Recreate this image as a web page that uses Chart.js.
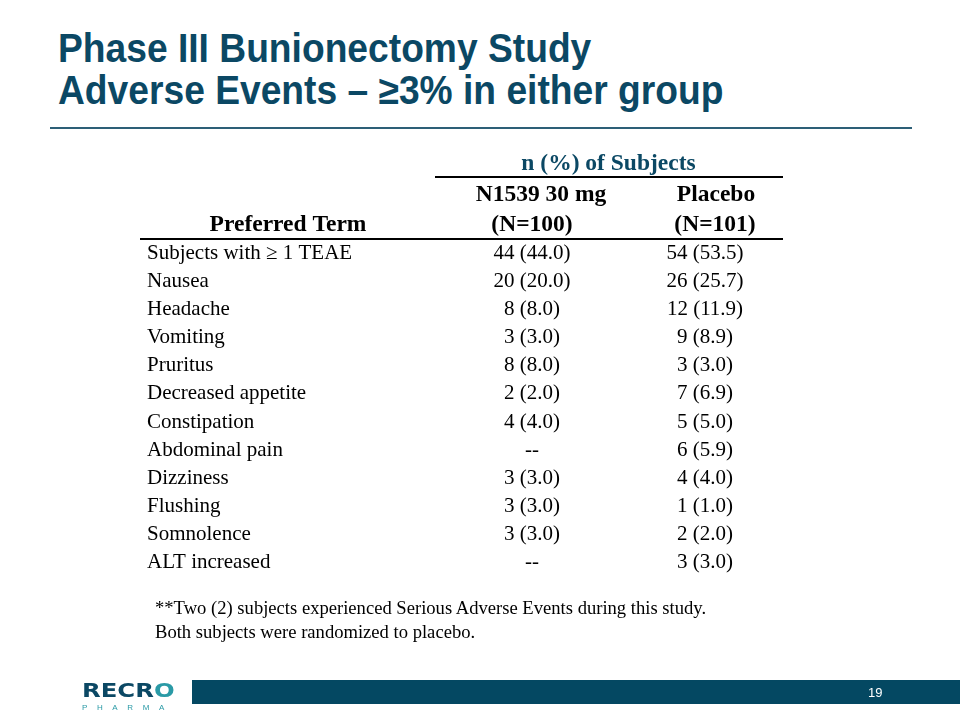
<!DOCTYPE html>
<html lang="en">
<head>
    <meta charset="UTF-8">
    <title>Phase III Bunionectomy Study - Adverse Events</title>
    <script src="https://cdn.jsdelivr.net/npm/chart.js"></script>
    <style>
        body {
            margin: 0;
            padding: 0;
            background-color: white;
        }

        .slide {
            position: relative;
            width: 960px;
            height: 720px;
            overflow: hidden;
            background-color: white;
        }

        .title {
            position: absolute;
            left: 58px;
            top: 27px;
            margin: 0;
            font-family: "Liberation Sans", Arial, sans-serif;
            font-weight: bold;
            font-size: 40px;
            line-height: 42px;
            color: #0b4864;
            white-space: nowrap;
            transform: scaleX(0.93);
            transform-origin: left top;
        }

        .rule {
            position: absolute;
            left: 50px;
            top: 127px;
            width: 862px;
            height: 2px;
            background-color: #2d5f77;
        }

        .chart-box {
            position: absolute;
            left: 0;
            top: 0;
            width: 960px;
            height: 720px;
        }

        .footnote {
            position: absolute;
            left: 155px;
            top: 596px;
            font-family: "Liberation Serif", "Times New Roman", serif;
            font-size: 18.6px;
            line-height: 24px;
            color: black;
        }

        .footer-bar {
            position: absolute;
            left: 192px;
            top: 680px;
            width: 768px;
            height: 24px;
            background-color: #044862;
        }

        .page-num {
            position: absolute;
            left: 868px;
            top: 685px;
            font-family: "Liberation Sans", Arial, sans-serif;
            font-size: 13px;
            color: white;
        }

        .logo {
            position: absolute;
            left: 82px;
            top: 680px;
            font-family: "DejaVu Sans", sans-serif;
            color: #0b4864;
        }

        .logo .word {
            font-weight: bold;
            font-size: 19px;
            line-height: 20px;
            transform: scaleX(1.28);
            transform-origin: left top;
        }

        .logo .word span {
            color: #2a9aa6;
        }

        .logo .sub {
            font-family: "Liberation Sans", Arial, sans-serif;
            font-size: 8px;
            letter-spacing: 9.6px;
            color: #2a9aa6;
            line-height: 10px;
            margin-top: 3px;
        }
    </style>
</head>
<body>
    <div class="slide">
        <h1 class="title">Phase III Bunionectomy Study<br>Adverse Events – ≥3% in either group</h1>
        <div class="rule"></div>

        <div class="chart-box">
            <canvas id="aeChart"></canvas>
        </div>

        <div class="footnote">**Two (2) subjects experienced Serious Adverse Events during this study.<br>Both subjects were randomized to placebo.</div>

        <div class="logo">
            <div class="word">RECR<span>O</span></div>
            <div class="sub">PHARMA</div>
        </div>
        <div class="footer-bar"></div>
        <div class="page-num">19</div>
    </div>

    <script>
        // Table data
        const preferredTerms = [
            'Subjects with \u2265 1 TEAE',
            'Nausea',
            'Headache',
            'Vomiting',
            'Pruritus',
            'Decreased appetite',
            'Constipation',
            'Abdominal pain',
            'Dizziness',
            'Flushing',
            'Somnolence',
            'ALT increased'
        ];

        // null means "--" in the table
        const n1539Counts = [44, 20, 8, 3, 8, 2, 4, null, 3, 3, 3, null];
        const n1539Pct = [44.0, 20.0, 8.0, 3.0, 8.0, 2.0, 4.0, null, 3.0, 3.0, 3.0, null];

        const placeboCounts = [54, 26, 12, 9, 3, 7, 5, 6, 4, 1, 2, 3];
        const placeboPct = [53.5, 25.7, 11.9, 8.9, 3.0, 6.9, 5.0, 5.9, 4.0, 1.0, 2.0, 3.0];

        const groupLabels = ['N1539 30 mg', 'Placebo'];
        const groupSizes = ['(N=100)', '(N=101)'];
        const spanHeader = 'n (%) of Subjects';
        const termHeader = 'Preferred Term';

        function cellText(n, pct) {
            if (n === null) return '--';
            return n + ' (' + pct.toFixed(1) + ')';
        }

        // one dataset per column, one point per row
        function columnPoints(col, counts, pcts) {
            return preferredTerms.map(function (term, i) {
                return { x: col, y: term, label: cellText(counts[i], pcts[i]) };
            });
        }

        const serif = '"Liberation Serif", "Times New Roman", serif';

        // draws the cell texts at each point, plus the header block and rules
        const tablePlugin = {
            id: 'tablePlugin',
            afterDatasetsDraw: function (chart) {
                const ctx = chart.ctx;
                const xs = chart.scales.x;
                const area = chart.chartArea;
                ctx.save();

                // cells
                ctx.font = '21px ' + serif;
                ctx.fillStyle = '#000';
                ctx.textAlign = 'center';
                ctx.textBaseline = 'middle';
                chart.data.datasets.forEach(function (ds, di) {
                    const meta = chart.getDatasetMeta(di);
                    meta.data.forEach(function (pt, i) {
                        ctx.fillText(ds.data[i].label, pt.x, pt.y);
                    });
                });

                const c0 = xs.getPixelForValue(0);
                const c1 = xs.getPixelForValue(1);

                // header
                ctx.font = 'bold 23.5px ' + serif;
                ctx.textBaseline = 'alphabetic';
                ctx.fillStyle = '#0b4864';
                ctx.fillText(spanHeader, (c0 + c1) / 2 - 10, area.top - 69);

                ctx.fillStyle = '#000';
                ctx.fillText(groupLabels[0], c0 + 9, area.top - 38);
                ctx.fillText(groupLabels[1], c1 + 11, area.top - 38);
                ctx.fillText(groupSizes[0], c0, area.top - 8);
                ctx.fillText(groupSizes[1], c1 + 10, area.top - 8);
                ctx.fillText(termHeader, 288, area.top - 8);

                // rules
                ctx.strokeStyle = '#000';
                ctx.lineWidth = 2;
                ctx.beginPath();
                ctx.moveTo(435, area.top - 62);
                ctx.lineTo(783, area.top - 62);
                ctx.moveTo(140, area.top);
                ctx.lineTo(783, area.top);
                ctx.stroke();

                ctx.restore();
            }
        };

        const ctx = document.getElementById('aeChart').getContext('2d');
        const aeChart = new Chart(ctx, {
            type: 'scatter',
            data: {
                datasets: [
                    {
                        label: groupLabels[0],
                        data: columnPoints(0, n1539Counts, n1539Pct),
                        pointRadius: 0,
                        pointHoverRadius: 0
                    },
                    {
                        label: groupLabels[1],
                        data: columnPoints(1, placeboCounts, placeboPct),
                        pointRadius: 0,
                        pointHoverRadius: 0
                    }
                ]
            },
            options: {
                responsive: true,
                maintainAspectRatio: false,
                animation: false,
                layout: {
                    padding: { left: 147, right: 168.5, top: 239, bottom: 143 }
                },
                plugins: {
                    legend: { display: false },
                    tooltip: { enabled: false }
                },
                scales: {
                    x: {
                        type: 'linear',
                        min: -0.5,
                        max: 1.5,
                        display: false
                    },
                    y: {
                        type: 'category',
                        labels: preferredTerms,
                        offset: true,
                        border: { display: false },
                        grid: { display: false, drawTicks: false },
                        ticks: {
                            autoSkip: false,
                            crossAlign: 'far',
                            padding: 0,
                            color: '#000',
                            font: { family: serif, size: 21 }
                        },
                        afterFit: function (scale) {
                            scale.width = 298.5;
                        }
                    }
                }
            },
            plugins: [tablePlugin]
        });
    </script>
</body>
</html>
